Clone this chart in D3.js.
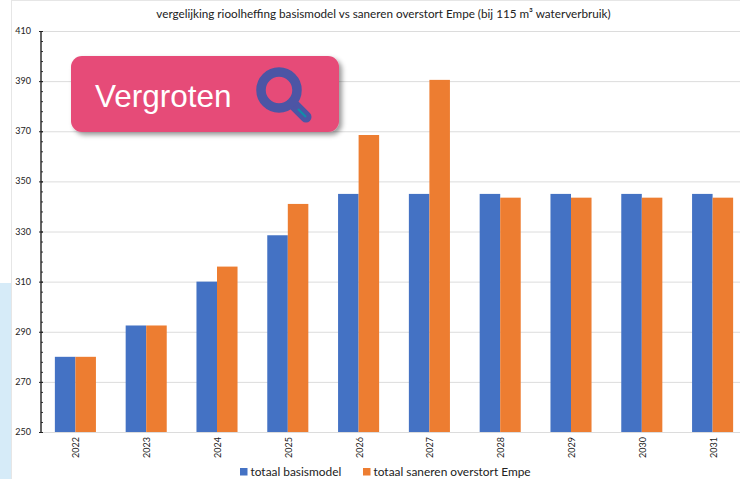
<!DOCTYPE html>
<html><head><meta charset="utf-8">
<script src="https://cdnjs.cloudflare.com/ajax/libs/d3/7.8.5/d3.min.js"></script>
<style>html,body{margin:0;padding:0;background:#fff;overflow:hidden}svg{display:block}text{font-family:Lato,sans-serif}</style>
</head><body><svg id="c" width="740" height="479"></svg>
<script>
const years=["2022","2023","2024","2025","2026","2027","2028","2029","2030","2031"];
const basismodel=[280,292.5,310,328.5,345,345,345,345,345,345];
const saneren=[280,292.5,316,341,368.5,390.5,343.5,343.5,343.5,343.5];
const seriesNames=["totaal basismodel","totaal saneren overstort Empe"];
const seriesColors=["#4472c4","#ed7d31"];
const yTicks=[250,270,290,310,330,350,370,390,410];
const minorTicks=d3.range(250,411,4);
const titleText="vergelijking rioolheffing basismodel vs saneren overstort Empe (bij 115 m³ waterverbruik)";
const badgeText="Vergroten";

const svg=d3.select("#c");
const y=d3.scaleLinear().domain([250,410]).range([432,31]);
const x=d3.scaleBand().domain(years).range([40,748]).paddingInner(0.42).paddingOuter(0.21);
const x1=d3.scaleBand().domain([0,1]).range([0,x.bandwidth()]);

// page frame and side panel
svg.append("rect").attr("x",0).attr("y",283).attr("width",12).attr("height",196).attr("fill","#d6ebf8");
svg.append("line").attr("x1",11.5).attr("x2",11.5).attr("y1",0).attr("y2",479).attr("stroke","#e6e6e6");
svg.append("line").attr("x1",11).attr("x2",740).attr("y1",0.5).attr("y2",0.5).attr("stroke","#e6e6e6");

svg.append("text").attr("x",383.5).attr("y",18).attr("text-anchor","middle")
  .attr("font-size",11.7).attr("fill","#222").text(titleText);

// gridlines
svg.append("g").selectAll("line").data(yTicks).join("line")
  .attr("x1",41).attr("x2",740).attr("y1",d=>y(d)+.5).attr("y2",d=>y(d)+.5)
  .attr("stroke","#dcdcdc").attr("stroke-width",1);

// bars
const groups=[basismodel,saneren];
groups.forEach((vals,s)=>{
  svg.append("g").selectAll("rect").data(vals).join("rect")
    .attr("x",(d,i)=>x(years[i])+x1(s)).attr("width",x1.bandwidth())
    .attr("y",d=>y(d)).attr("height",d=>y(250)-y(d)).attr("fill",seriesColors[s]);
});

// y axis
const axis=svg.append("g").attr("transform","translate(41,0)");
axis.selectAll("line.m").data(minorTicks).join("line").attr("class","m")
  .attr("x1",0).attr("x2",2).attr("y1",d=>y(d)+.5).attr("y2",d=>y(d)+.5).attr("stroke","#333");
axis.append("line").attr("x1",0).attr("x2",0).attr("y1",y(410)).attr("y2",y(250)+1).attr("stroke","#222").attr("stroke-width",1.4);
axis.selectAll("line.t").data(yTicks).join("line").attr("class","t")
  .attr("x1",-2).attr("x2",2).attr("y1",d=>y(d)+.5).attr("y2",d=>y(d)+.5).attr("stroke","#222");
axis.selectAll("text").data(yTicks).join("text")
  .attr("x",-10).attr("y",d=>y(d)+3).attr("text-anchor","end").attr("font-size",9).attr("fill","#222").text(d=>d);

// x labels
svg.append("g").selectAll("text").data(years).join("text")
  .attr("transform",d=>`translate(${x(d)+x.bandwidth()/2+4},458) rotate(-90)`)
  .attr("font-size",9).attr("fill","#222").text(d=>d);

// legend
const legendX=[240,363];
seriesNames.forEach((n,i)=>{
  svg.append("rect").attr("x",legendX[i]).attr("y",468).attr("width",7.5).attr("height",7.5).attr("fill",seriesColors[i]);
  svg.append("text").attr("x",legendX[i]+10.5).attr("y",476).attr("font-size",11.9).attr("fill","#222").text(n);
});

// badge
const defs=svg.append("defs");
const f=defs.append("filter").attr("id","sh").attr("x","-10%").attr("y","-20%").attr("width","125%").attr("height","150%");
f.append("feDropShadow").attr("dx",3).attr("dy",3).attr("stdDeviation",2.5).attr("flood-color","#000").attr("flood-opacity",.4);
svg.append("rect").attr("x",71).attr("y",56).attr("width",268).attr("height",76).attr("rx",11)
  .attr("fill","#e64b78").attr("filter","url(#sh)");
svg.append("text").attr("x",95).attr("y",107).attr("font-size",31.5).attr("fill","#fff")
  .style("font-family","'Liberation Sans',Arial,sans-serif").text(badgeText);
svg.append("line").attr("x1",295).attr("y1",106).attr("x2",306).attr("y2",117)
  .attr("stroke","#4c55a5").attr("stroke-width",11).attr("stroke-linecap","round");
svg.append("line").attr("x1",298).attr("y1",109).attr("x2",306).attr("y2",117)
  .attr("stroke","#0f8fa8").attr("stroke-width",2.2);
svg.append("circle").attr("cx",279).attr("cy",90).attr("r",18).attr("fill","none")
  .attr("stroke","#4c55a5").attr("stroke-width",9.5);
</script></body></html>
